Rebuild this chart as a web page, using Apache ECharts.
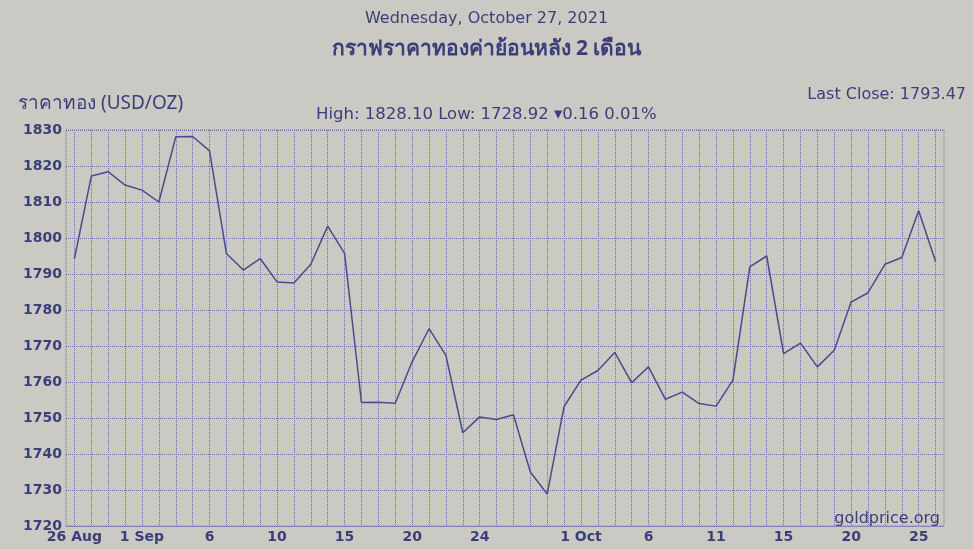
<!DOCTYPE html>
<html>
<head>
<meta charset="utf-8">
<script src="https://cdn.jsdelivr.net/npm/echarts@6/dist/echarts.min.js"></script>
<style>
  html, body { margin: 0; padding: 0; background: #cbc9c4; }
  #chart { width: 973px; height: 549px; }
</style>
</head>
<body>
<div id="chart"></div>
<script>
// gold price, one point per trading day, 26 Aug - 27 Oct 2021
const prices = [
  1794.3, 1817.2, 1818.4, 1814.7, 1813.3, 1810.0, 1828.1, 1828.2, 1824.2, 1795.7,
  1791.1, 1794.3, 1787.8, 1787.5, 1792.7, 1803.3, 1795.7, 1754.3, 1754.4, 1754.1,
  1765.6, 1774.8, 1767.4, 1745.9, 1750.3, 1749.6, 1750.9, 1735.0, 1728.9, 1753.2,
  1760.5, 1763.2, 1768.2, 1759.8, 1764.2, 1755.2, 1757.2, 1754.0, 1753.3, 1760.5,
  1792.0, 1795.0, 1767.9, 1770.8, 1764.2, 1768.8, 1782.2, 1784.8, 1792.7, 1794.6,
  1807.6, 1793.5
];
const labelAt = [0, 4, 8, 12, 16, 20, 24, 30, 34, 38, 42, 46, 50];
const labelText = ["26 Aug", "1 Sep", "6", "10", "15", "20", "24", "1 Oct", "6", "11", "15", "20", "25"];
const yMin = 1720;
const yMax = 1830;
const yStep = 10;

const ink = "#3a3e7a";
const gridLine = { type: [1, 1], color: "#6e71a0", width: 1 };
const days = prices.map((p, i) => String(i));

const chart = echarts.init(document.getElementById("chart"));
chart.setOption({
  backgroundColor: "#cbc9c4",
  animation: false,
  title: [
    {
      text: "Wednesday, October 27, 2021",
      left: "center", top: 6,
      textStyle: { color: ink, fontSize: 16, fontWeight: "normal", fontFamily: "DejaVu Sans" },
    },
    {
      text: "กราฟราคาทองค่าย้อนหลัง 2 เดือน",
      left: "center", top: 34,
      textStyle: { color: ink, fontSize: 21, fontWeight: "bold", fontFamily: "Noto Sans, DejaVu Sans, sans-serif" },
    },
    {
      text: "ราคาทอง (USD/OZ)",
      left: 13, top: 89,
      textStyle: { color: ink, fontSize: 19, fontWeight: "normal", fontFamily: "Noto Sans, DejaVu Sans, sans-serif" },
    },
    {
      text: "High: 1828.10 Low: 1728.92 ▾0.16 0.01%",
      left: 311, top: 101,
      textStyle: { color: ink, fontSize: 16.5, fontWeight: "normal", fontFamily: "DejaVu Sans" },
    },
    {
      text: "Last Close: 1793.47",
      right: 2, top: 82,
      textStyle: { color: ink, fontSize: 16, fontWeight: "normal", fontFamily: "DejaVu Sans" },
    },
    {
      text: "goldprice.org",
      right: 28, top: 506,
      textStyle: { color: ink, fontSize: 16, fontWeight: "normal", fontFamily: "DejaVu Sans" },
    },
  ],
  grid: {
    left: 66, right: 29, top: 130, bottom: 23,
    show: true,
    borderColor: gridLine.color, borderWidth: 1, borderType: [1, 1],
  },
  xAxis: {
    type: "category",
    data: days,
    boundaryGap: true,
    axisLine: { show: false },
    axisTick: { show: false, alignWithLabel: true },
    splitLine: { show: true, interval: 0, alignWithLabel: true, lineStyle: gridLine },
    axisLabel: {
      interval: 0,
      margin: 4,
      color: ink,
      fontSize: 14,
      fontWeight: "bold",
      fontFamily: "DejaVu Sans",
      formatter: (v, i) => {
        const k = labelAt.indexOf(i);
        return k >= 0 ? labelText[k] : "";
      },
    },
  },
  yAxis: {
    type: "value",
    min: yMin, max: yMax, interval: yStep,
    axisLine: { show: false },
    axisTick: { show: false },
    splitLine: { show: true, lineStyle: gridLine },
    axisLabel: {
      margin: 4, color: ink, fontSize: 14, fontWeight: "bold", fontFamily: "DejaVu Sans",
      formatter: (v) => String(v),
    },
  },
  series: [{
    type: "line",
    data: prices,
    symbol: "none",
    lineStyle: { color: "#484c8a", width: 1.5 },
  }],
});
</script>
</body>
</html>
